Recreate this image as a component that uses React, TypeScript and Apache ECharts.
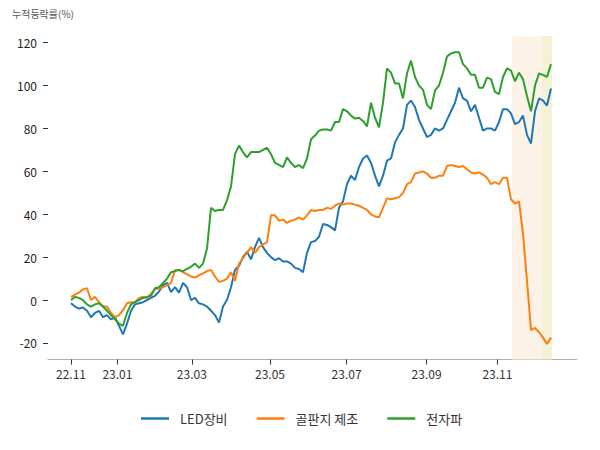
import React, { useEffect, useRef } from 'react';
import * as echarts from 'echarts';

const seriesNames = ['LED장비', '골판지 제조', '전자파'];

const ledValues = [
  -1.5, -3, -4, -3.5, -5, -8, -6, -5, -8, -7,
  -9, -8, -12, -16, -11, -5, -2, -1.5, -1, 0,
  1, 2, 4, 7, 8, 3.7, 6, 3.5, 8, 6,
  0, 1, -1.5, -2, -3, -5, -7, -10.5, -3, 0,
  6, 14, 16, 20, 22.5, 19, 24.7, 29, 24.7, 22,
  20, 18.6, 19.5, 18, 18, 17, 15, 14.5, 13, 22,
  27, 27.5, 29.5, 35.5, 35, 34, 32.5, 43, 46, 54,
  58, 56, 62, 66, 67.4, 64, 58, 53, 58, 65,
  66, 73.5, 77, 80, 91, 93, 90, 84, 80, 76,
  77, 80, 79, 80, 84, 88, 92, 99, 94, 93,
  88, 91, 85, 79, 80, 80, 79, 83, 89, 89,
  87, 82, 83, 86, 77, 73, 88, 94, 93, 90.7,
  98.6,
];

const boardValues = [
  1.5, 2.5, 3.5, 5, 5.5, 0, 1.5, -1, -3, -3,
  -6, -8, -7, -4.7, -1.5, -1, -1, 1, 1.5, 1,
  3, 5, 5.5, 6, 7, 8, 14, 14, 13, 12,
  11, 10.5, 11.5, 12.5, 13.5, 14, 11, 8.5, 9, 10,
  13, 9, 17, 19.5, 22, 24.7, 22, 24.7, 26, 27,
  39.5, 39.5, 37, 37.5, 36, 37, 37.5, 38.6, 37.5, 39.5,
  42, 41.5, 42, 42, 43, 42.5, 44, 45, 44.5, 45,
  45, 44.5, 44, 43, 42, 40, 39, 38.6, 43, 47.4,
  47, 47.5, 48, 50, 54, 55, 59, 59.5, 60, 59,
  57, 57, 58, 58, 62.5, 63, 62.5, 62, 62.5, 61,
  59.5, 59, 59.5, 58.5, 57, 54, 55, 54, 57, 57,
  47, 45, 46, 31, 9, -14, -13, -15, -17.5, -20.5,
  -17.5,
];

const emfValues = [
  0, 1.5, 1, 0, -2, -3, -2, -1.5, -3, -5,
  -7, -9, -11, -12, -6, -2, -1, 0, 1, 1.5,
  2, 5.5, 6, 8, 10, 13, 13.5, 14, 13.5, 14.5,
  15.5, 17, 15, 17, 24, 43, 41.5, 42, 42, 46.5,
  53, 68, 72, 69, 66.5, 69, 69, 69, 70, 71,
  68, 64, 63, 62, 66.5, 64, 62, 63, 61.5, 66,
  75, 76.7, 79, 79.5, 79.5, 79, 83, 83, 89, 88,
  86, 84.6, 85, 83.5, 81, 92, 85, 80.5, 92, 108,
  106, 101, 101, 94, 105.6, 111.6, 104, 100, 98, 91,
  89, 97.7, 100, 106, 113.5, 115, 115.5, 115.5, 110, 108,
  105, 105, 99, 99, 103.7, 103, 97, 96, 104, 108,
  107, 102, 106, 103, 95, 88, 100, 105.6, 105, 104,
  110,
];

// x positions are trading-day indices of the data above
const tickAt = [0, 11.6, 30.2, 49.75, 68.9, 88.9, 106.6];
const tickLabels = ['22.11', '23.01', '23.03', '23.05', '23.07', '23.09', '23.11'];
const yTicks = [-20, 0, 20, 40, 60, 80, 100, 120];
const highlightSpans = [
  [110.25, 117.75],
  [117.75, 120.25],
];

const FONT = '"Noto Sans CJK KR", "Noto Sans", sans-serif';
const COLORS = ['#1f77b4', '#ff7f0e', '#2ca02c'];
const SPAN_COLORS = ['#fcf2e8', '#f5f1d6'];

const toPairs = (arr: number[]) => arr.map((v, i) => [i, v]);

export default function App() {
  const ref = useRef<HTMLDivElement>(null);

  useEffect(() => {
    if (!ref.current) return;
    const chart = echarts.init(ref.current, null, { renderer: 'svg' });
    const allSeries = [ledValues, boardValues, emfValues];
    chart.setOption({
      animation: false,
      color: COLORS,
      textStyle: { fontFamily: FONT },
      grid: { left: 48, right: 23, top: 36, bottom: 90.5, containLabel: false },
      graphic: [
        {
          type: 'text',
          left: 12,
          top: 8,
          style: { text: '누적등락률(%)', fontSize: 10, fill: '#555', fontFamily: FONT },
        },
      ],
      legend: {
        data: seriesNames,
        left: 141,
        top: 412,
        padding: 0,
        icon: 'rect',
        itemWidth: 28,
        itemHeight: 2.5,
        itemGap: 29,
        textStyle: { fontSize: 13, color: '#333', fontFamily: FONT, padding: [0, 0, 0, 6] },
      },
      xAxis: {
        type: 'value',
        min: -5.75,
        max: 126.5,
        axisLine: { show: true, onZero: false, lineStyle: { color: '#b0b0b0', width: 1 } },
        axisTick: { show: true, customValues: tickAt, length: 5, lineStyle: { color: '#333' } },
        axisLabel: {
          customValues: tickAt,
          margin: 8,
          fontSize: 12,
          color: '#333',
          fontFamily: FONT,
          formatter: (v: number) => {
            let best = 0;
            for (let i = 1; i < tickAt.length; i++) {
              if (Math.abs(tickAt[i] - v) < Math.abs(tickAt[best] - v)) best = i;
            }
            return tickLabels[best];
          },
        },
        splitLine: { show: false },
      },
      yAxis: {
        type: 'value',
        min: -27.7,
        max: 123.1,
        axisLine: { show: false, onZero: false },
        axisTick: { show: true, customValues: yTicks, length: 5, lineStyle: { color: '#333' } },
        axisLabel: { customValues: yTicks, margin: 11, fontSize: 12, color: '#222', fontFamily: FONT },
        splitLine: { show: false },
      },
      series: allSeries.map((vals, k) => ({
        name: seriesNames[k],
        type: 'line',
        data: toPairs(vals),
        showSymbol: false,
        symbol: 'none',
        lineStyle: { width: 2, color: COLORS[k] },
        itemStyle: { color: COLORS[k] },
        z: 3,
        ...(k === 0
          ? {
              markArea: {
                silent: true,
                z: 1,
                data: highlightSpans.map((s, j) => [
                  { xAxis: s[0], itemStyle: { color: SPAN_COLORS[j] } },
                  { xAxis: s[1] },
                ]),
              },
            }
          : {}),
      })),
    });
    return () => chart.dispose();
  }, []);

  return (
    <div
      ref={ref}
      style={{ position: 'fixed', left: 0, top: 0, width: 600, height: 450, background: '#fff' }}
    />
  );
}
